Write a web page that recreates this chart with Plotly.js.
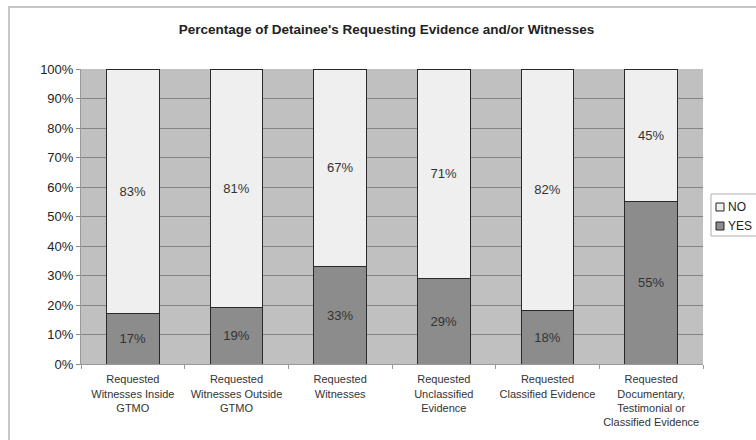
<!DOCTYPE html>
<html><head><meta charset="utf-8">
<script src="https://cdn.plot.ly/plotly-3.0.1.min.js"></script>
<style>body{margin:0;background:#fff}#c{width:756px;height:440px}</style>
</head><body><div id="c"></div>
<script>
const categories = [
  "Requested<br>Witnesses Inside<br>GTMO",
  "Requested<br>Witnesses Outside<br>GTMO",
  "Requested<br>Witnesses",
  "Requested<br>Unclassified<br>Evidence",
  "Requested<br>Classified Evidence",
  "Requested<br>Documentary,<br>Testimonial or<br>Classified Evidence"
];
const yesValues = [17, 19, 33, 29, 18, 55];
const noValues = [83, 81, 67, 71, 82, 45];
const seriesNames = ["YES", "NO"];
const seriesColors = ["#8c8c8c", "#efefef"];
const yTickVals = [0,10,20,30,40,50,60,70,80,90,100];
const yTickText = yTickVals.map(v => v + "%");

const FONT = "Liberation Sans, Arial, sans-serif";
const common = {
  type: "bar",
  x: categories,
  width: 0.51,
  texttemplate: "%{y}%",
  textposition: "inside",
  insidetextanchor: "middle",
  textangle: 0,
  textfont: {family: FONT, size: 13, color: "#333"},
  hoverinfo: "skip",
  showlegend: false
};
const traces = [
  Object.assign({}, common, {name: seriesNames[0], y: yesValues,
    marker: {color: seriesColors[0], line: {color: "#2a2a2a", width: 1}}}),
  Object.assign({}, common, {name: seriesNames[1], y: noValues,
    marker: {color: seriesColors[1], line: {color: "#2a2a2a", width: 1}}})
];

// custom compact legend (NO on top, YES below), in paper coordinates
const legShapes = [
  {type: "rect", xref: "paper", yref: "paper", x0: 1.01286, x1: 1.1077, y0: 0.43390, y1: 0.57627,
   line: {color: "#b0b0b0", width: 1}, fillcolor: "#ffffff"},
  {type: "rect", xref: "paper", yref: "paper", x0: 1.02090, x1: 1.03376, y0: 0.51864, y1: 0.54576,
   line: {color: "#222", width: 1}, fillcolor: seriesColors[1]},
  {type: "rect", xref: "paper", yref: "paper", x0: 1.02090, x1: 1.03376, y0: 0.45424, y1: 0.48136,
   line: {color: "#222", width: 1}, fillcolor: seriesColors[0]}
];
const legAnn = [
  {xref: "paper", yref: "paper", x: 1.03698, y: 0.53220, xanchor: "left", yanchor: "middle",
   text: seriesNames[1], showarrow: false, font: {family: FONT, size: 12, color: "#222"}},
  {xref: "paper", yref: "paper", x: 1.03698, y: 0.46780, xanchor: "left", yanchor: "middle",
   text: seriesNames[0], showarrow: false, font: {family: FONT, size: 12, color: "#222"}}
];

const layout = {
  width: 756, height: 440,
  margin: {l: 81, r: 53, t: 69, b: 76, pad: 0},
  paper_bgcolor: "#ffffff",
  plot_bgcolor: "#c0c0c0",
  barmode: "stack",
  showlegend: false,
  font: {family: FONT, color: "#333"},
  title: {text: "<b>Percentage of Detainee's Requesting Evidence and/or Witnesses</b>",
    font: {family: FONT, size: 13.5, color: "#222"}, x: 0.4912, xref: "paper",
    y: 0.934, yref: "container", xanchor: "center", yanchor: "middle"},
  xaxis: {
    type: "category", tickson: "boundaries", ticks: "outside", ticklen: 4, tickcolor: "#999",
    tickangle: 0, automargin: false, ticklabelstandoff: 5,
    showline: true, linecolor: "#999", linewidth: 1,
    tickfont: {family: FONT, size: 11, color: "#333"}, showgrid: false, fixedrange: true
  },
  yaxis: {
    range: [0, 100], tickvals: yTickVals, ticktext: yTickText,
    ticks: "outside", ticklen: 4, tickcolor: "#888",
    showgrid: true, gridcolor: "#858585", gridwidth: 1,
    showline: true, linecolor: "#999", zeroline: false,
    tickfont: {family: FONT, size: 13, color: "#222"}, fixedrange: true
  },
  shapes: [{
    type: "rect", xref: "paper", yref: "paper",
    x0: -0.1158, x1: 1.2, y0: -0.5, y1: 1.2102,
    line: {color: "#c8c8c8", width: 2}, fillcolor: "rgba(0,0,0,0)", layer: "below"
  }].concat(legShapes),
  annotations: legAnn
};
Plotly.newPlot("c", traces, layout, {displayModeBar: false, staticPlot: true});
</script></body></html>
